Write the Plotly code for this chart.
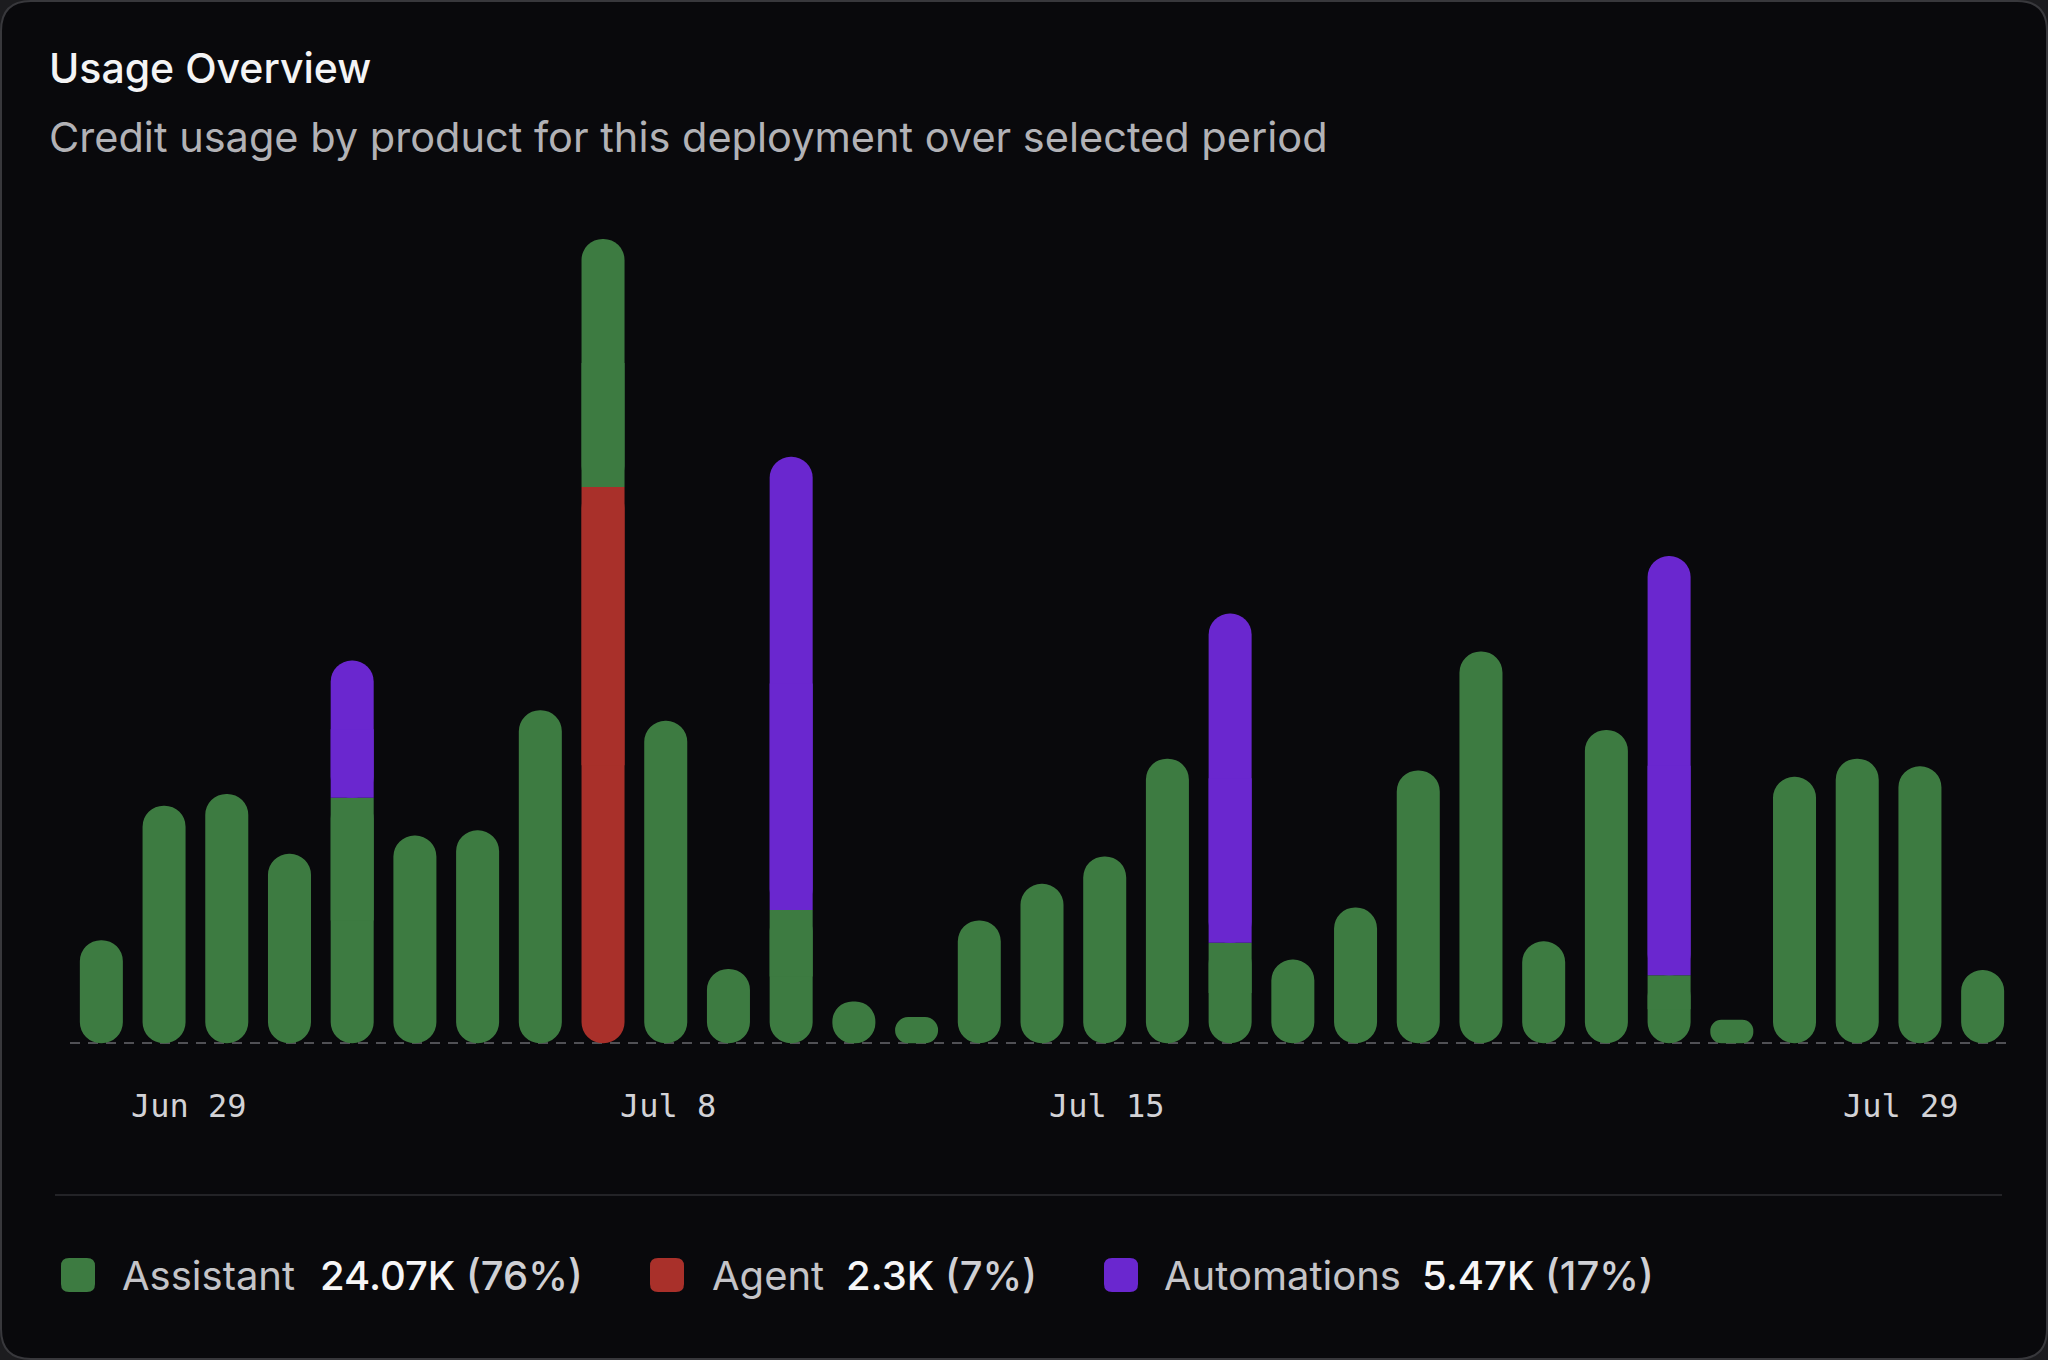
"""Usage overview card: daily credit usage per product as stacked pill bars."""
import pandas as pd
import plotly.graph_objects as go

DATES = pd.date_range("2025-06-29", "2025-07-29", freq="D")

ASSISTANT = [430, 991, 1040, 790, 1024, 866, 888, 1389, 1035, 1345,
             310, 556, 174, 109, 512, 665, 779, 1187, 419, 349,
             566, 1138, 1634, 425, 1307, 283, 98, 1111, 1187, 1155, 305]
AGENT = [0, 0, 0, 0, 0, 0, 0, 0, 2320, 0,
         0, 0, 0, 0, 0, 0, 0, 0, 0, 0,
         0, 0, 0, 0, 0, 0, 0, 0, 0, 0, 0]
AUTOMATIONS = [0, 0, 0, 0, 572, 0, 0, 0, 0, 0,
               0, 1890, 0, 0, 0, 0, 0, 0, 1373, 0,
               0, 0, 0, 0, 0, 1749, 0, 0, 0, 0, 0]

PRODUCTS = ["Assistant", "Agent", "Automations"]
TOTALS = ["24.07K", "2.3K", "5.47K"]
SHARES = ["(76%)", "(7%)", "(17%)"]

TICK_DATES = ["2025-06-29", "2025-07-08", "2025-07-15", "2025-07-29"]
TICK_TEXT = ["Jun 29", "Jul 8", "Jul 15", "Jul 29"]

GREEN, RED, PURPLE = "#3d7b41", "#a9302a", "#6a27cf"
CARD, OUTSIDE, EDGE = "#09090c", "#1c1c1f", "#38383c"
SANS, MONO = "Inter, Roboto, sans-serif", "DejaVu Sans Mono, monospace"

W, H = 2048, 1360
L, R, T, B = 70, 2014, 185, 1048  # plot area in page pixels


def fx(px):
    return (px - L) / (R - L)


def fy(py):
    return (B - py) / (B - T)


def rounded_rect(x0, y0, x1, y1, r, **style):
    # page pixels -> pixel offsets from plot's bottom-left corner (y up)
    a, b, t, u = x0 - L, x1 - L, B - y0, B - y1
    path = (f"M{a + r},{t} L{b - r},{t} Q{b},{t} {b},{t - r} L{b},{u + r} "
            f"Q{b},{u} {b - r},{u} L{a + r},{u} Q{a},{u} {a},{u + r} "
            f"L{a},{t - r} Q{a},{t} {a + r},{t} Z")
    return dict(type="path", xref="paper", yref="paper", xsizemode="pixel",
                ysizemode="pixel", xanchor=0, yanchor=0, path=path, **style)


# bottom -> top stacking order seen in the chart
STACK = [(AGENT, RED), (ASSISTANT, GREEN), (AUTOMATIONS, PURPLE)]
n = len(DATES)

# a bar with an explicit base is rounded at both ends in plotly, so every
# segment is drawn as a pill; where segments touch, a square-cornered piece
# over the inner half hides the rounding at the joint
pills = [([None] * n, [None] * n) for _ in STACK]
joints = [([None] * n, [None] * n) for _ in STACK]

for i in range(n):
    segs = [k for k, (vals, _) in enumerate(STACK) if vals[i] > 0]
    lo = 0
    for j, k in enumerate(segs):
        v = STACK[k][0][i]
        hi, mid = lo + v, lo + v / 2
        pills[k][0][i], pills[k][1][i] = lo, v
        below, above = j > 0, j < len(segs) - 1
        if below or above:
            f0 = lo if below else mid
            f1 = hi if above else mid
            joints[k][0][i], joints[k][1][i] = f0, f1 - f0
        lo = hi

fig = go.Figure()
for k, (_, color) in enumerate(STACK):
    for (bases, sizes), radius in ((pills[k], "50%"), (joints[k], 0)):
        if all(s is None for s in sizes):
            continue
        fig.add_bar(x=DATES, y=sizes, base=bases,
                    marker=dict(color=color, line_width=0, cornerradius=radius),
                    hoverinfo="skip", showlegend=False)

shapes = [
    rounded_rect(1, 1, W - 1, H - 1, 30, fillcolor=CARD,
                 line=dict(color=EDGE, width=2), layer="below"),
    dict(type="line", xref="paper", yref="paper", x0=fx(55), x1=fx(2002),
         y0=fy(1195), y1=fy(1195), line=dict(color="#232327", width=2)),
]

annotations = [
    dict(text="Usage Overview", x=fx(47), y=fy(68),
         font=dict(family=SANS, size=41, color="#f4f4f5", weight=500)),
    dict(text="Credit usage by product for this deployment over selected period",
         x=fx(47), y=fy(137), font=dict(family=SANS, size=41.5, color="#b2b2b6")),
]
for a in annotations:
    a.update(xref="paper", yref="paper", xanchor="left", yanchor="middle",
             showarrow=False)

# first/last date labels are pulled inward, as in the source card
tick_shift = [88, 2, 2, -82]
for d, txt, sh in zip(TICK_DATES, TICK_TEXT, tick_shift):
    annotations.append(dict(text=txt, x=d, xref="x", y=fy(1106), yref="paper",
                            xshift=sh, showarrow=False, yanchor="middle",
                            font=dict(family=MONO, size=32, color="#d2d2d6")))

legend_colors = [GREEN, RED, PURPLE]
marker_x = [78, 667, 1121]
label_x = [120, 710, 1162]
value_x = [318, 844, 1420]
for name, tot, pct, col, mx, lx, vx in zip(PRODUCTS, TOTALS, SHARES,
                                           legend_colors, marker_x, label_x, value_x):
    shapes.append(rounded_rect(mx - 17, 1258, mx + 17, 1292, 8,
                               fillcolor=col, line=dict(width=0)))
    annotations.append(dict(text=name, x=fx(lx), y=fy(1275), xref="paper",
                            yref="paper", xanchor="left", yanchor="middle",
                            showarrow=False,
                            font=dict(family=SANS, size=40, color="#c4c4c8")))
    annotations.append(dict(text=f"{tot} <span style='color:#d0d0d4'>{pct}</span>",
                            x=fx(vx), y=fy(1275), xref="paper", yref="paper",
                            xanchor="left", yanchor="middle", showarrow=False,
                            font=dict(family=SANS, size=40, color="#f6f6f7",
                                      weight=500)))

fig.update_layout(
    width=W, height=H, margin=dict(l=L, r=W - R, t=T, b=H - B, pad=0),
    paper_bgcolor=OUTSIDE, plot_bgcolor="rgba(0,0,0,0)",
    barmode="overlay", bargap=0.314, showlegend=False,
    shapes=shapes, annotations=annotations,
    xaxis=dict(type="date", showgrid=False, zeroline=False, showline=False,
               showticklabels=False, ticks="",
               range=[DATES[0] - pd.Timedelta(hours=12),
                      DATES[-1] + pd.Timedelta(hours=12)]),
    yaxis=dict(range=[-20, 3580], tickvals=[0], showticklabels=False,
               showgrid=True, gridcolor="#505055", gridwidth=2,
               griddash="10px,8px", zeroline=False, showline=False),
)

fig.write_html(
    "out.html",
    config={"displayModeBar": False},
    post_script=("document.body.style.margin='0';"
                 "document.body.style.overflow='hidden';"
                 f"document.body.style.background='{OUTSIDE}';"),
)
